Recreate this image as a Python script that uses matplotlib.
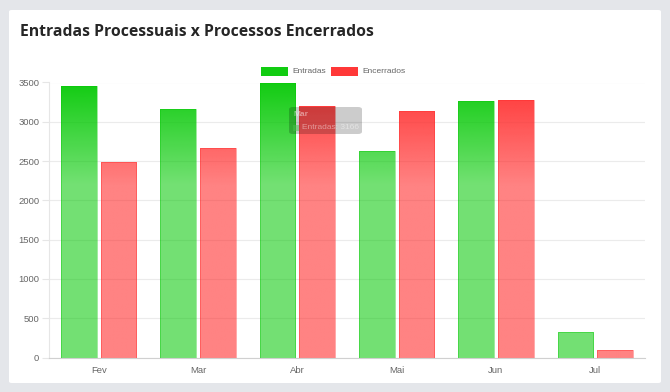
import numpy as np
import matplotlib
matplotlib.use("Agg")
import matplotlib.pyplot as plt
from matplotlib.patches import Rectangle, FancyBboxPatch

# data
meses = ["Fev", "Mar", "Abr", "Mai", "Jun", "Jul"]
entradas = [3460, 3166, 3490, 2630, 3270, 320]
encerrados = [2490, 2670, 3200, 3140, 3280, 100]
yticks = [0, 500, 1000, 1500, 2000, 2500, 3000, 3500]

W, H = 670, 392
plt.rcParams["font.family"] = ["Liberation Sans", "DejaVu Sans"]

fig = plt.figure(figsize=(W / 100, H / 100), dpi=100)
fig.patch.set_facecolor("#e4e6ea")

# white card
card = FancyBboxPatch((9 / W, 1 - 383 / H), 652 / W, 373 / H,
                      boxstyle="round,pad=0,rounding_size=0.004",
                      transform=fig.transFigure, facecolor="white",
                      edgecolor="none", zorder=-5)
fig.patches.append(card)

fig.text(20 / W, 1 - 36 / H, "Entradas Processuais x Processos Encerrados",
         fontsize=11.3, fontweight="bold", color="#262626",
         family=["Open Sans", "DejaVu Sans"])

ax = fig.add_axes([49 / W, 1 - 357.5 / H, (645 - 49) / W, (357.5 - 82.5) / H])
ax.set_facecolor("none")


def gradient_bar(ax, xc, width, h, rgb, a_top, a_bot):
    # vertical gradient: strong colour at the top of the plot, lighter below
    n = 200
    ys = np.linspace(0, h, n)
    t = np.clip((ys - 2200) / (3500 - 2200), 0, 1)
    alpha = a_bot + (a_top - a_bot) * t
    img = np.zeros((n, 1, 4))
    img[:, 0, 0] = rgb[0]
    img[:, 0, 1] = rgb[1]
    img[:, 0, 2] = rgb[2]
    img[:, 0, 3] = alpha
    x0 = xc - width / 2
    rect = Rectangle((x0, 0), width, h, facecolor="none",
                     edgecolor=(*rgb, a_bot * 0.8), linewidth=0.6, zorder=3)
    ax.add_patch(rect)
    im = ax.imshow(img, extent=(x0, x0 + width, 0, h), origin="lower",
                   aspect="auto", interpolation="bilinear", zorder=2)
    im.set_clip_path(rect)


x = np.arange(len(meses))
bw = 0.36
green = (0 / 255, 200 / 255, 0 / 255)
red = (255 / 255, 40 / 255, 40 / 255)
for i in range(len(meses)):
    gradient_bar(ax, x[i] - 0.2, bw, entradas[i], green, 0.93, 0.55)
    gradient_bar(ax, x[i] + 0.2, bw, encerrados[i], red, 0.93, 0.58)

ax.set_xlim(-0.5, len(meses) - 0.5)
ax.set_ylim(0, 3500)

ax.set_yticks(yticks)
ax.set_xticks(x)
ax.set_xticklabels(meses)
ax.yaxis.grid(True, color="#ebebeb", linewidth=0.8, zorder=0)
ax.set_axisbelow(True)
for s in ["top", "right"]:
    ax.spines[s].set_visible(False)
ax.spines["left"].set_color("#e6e6e6")
ax.spines["bottom"].set_color("#d0d0d0")
ax.tick_params(axis="y", length=5, color="#e6e6e6", labelsize=6.8,
               labelcolor="#666666", pad=2)
ax.tick_params(axis="x", length=0, labelsize=6.8, labelcolor="#666666", pad=6)

# legend
lx = [261, 331]
labels = ["Entradas", "Encerrados"]
colors = ["#11cc11", "#ff3838"]
for px, lab, c in zip(lx, labels, colors):
    fig.patches.append(Rectangle((px / W, 1 - 76 / H), 27 / W, 9 / H,
                                 transform=fig.transFigure, facecolor=c,
                                 edgecolor="none"))
    fig.text((px + 31) / W, 1 - 71.5 / H, lab, fontsize=6, color="#666666",
             va="center")

# fading tooltip
tip = FancyBboxPatch((289 / W, 1 - 134 / H), 73 / W, 27 / H,
                     boxstyle="round,pad=0,rounding_size=0.006",
                     transform=fig.transFigure, facecolor=(0, 0, 0, 0.2),
                     edgecolor="none", zorder=5)
fig.patches.append(tip)
fig.text(293 / W, 1 - 115 / H, "Mar", fontsize=6, color=(1, 1, 1, 0.45),
         va="center", fontweight="bold", zorder=6)
fig.patches.append(Rectangle((293 / W, 1 - 131 / H), 6 / W, 6 / H,
                             transform=fig.transFigure, zorder=6,
                             facecolor=(0.3, 0.75, 0.3, 0.5), edgecolor="none"))
fig.text(302 / W, 1 - 127.5 / H, "Entradas: 3166", fontsize=6,
         color=(1, 1, 1, 0.45), va="center", zorder=6)

fig.savefig("out.png", dpi=100, facecolor=fig.get_facecolor())
